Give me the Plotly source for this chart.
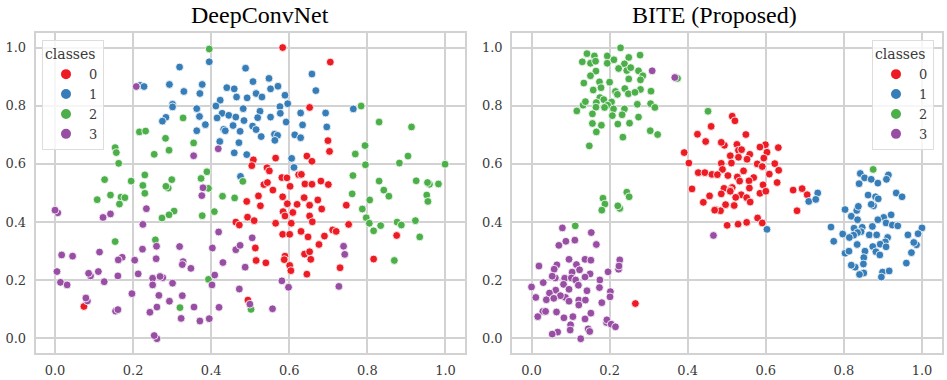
import plotly.graph_objects as go

class_names = ["0", "1", "2", "3"]
class_colors = ["#ed1c24", "#377eb8", "#4daf4a", "#984ea3"]
panel_titles = ["DeepConvNet", "BITE (Proposed)"]
tick_values = [0.0, 0.2, 0.4, 0.6, 0.8, 1.0]
tick_labels = ["0.0", "0.2", "0.4", "0.6", "0.8", "1.0"]

# DeepConvNet points
dcn_x0 = [.583, .705, .652, .699, .703, .508, .565, .645, .658, .504, .543, .549, .581, .594, .624, .631, .535, .544, .602, .640, .658, .681, .700, .558,
          .521, .583, .638, .673, .491, .595, .620, .652, .526, .746, .683, .584, .609, .589, .652, .493, .510, .659, .565, .605, .463, .472, .752, .711, .720,
          .630, .583, .601, .648, .690, .875, .676, .513, .589, .639, .652, .587, .655, .515, .540, .816, .601, .604, .730, .645, .494, .074]
dcn_y0 = [1.0, .950, .794, .680, .643, .614, .620, .627, .609, .594, .587, .576, .553, .552, .563, .564, .529, .536, .523, .531, .530, .541, .529, .510,
          .490, .487, .484, .476, .471, .463, .461, .458, .456, .458, .445, .436, .433, .421, .421, .417, .405, .401, .396, .396, .400, .390, .392, .373, .368,
          .368, .358, .358, .349, .352, .354, .323, .311, .283, .290, .298, .271, .272, .268, .260, .273, .251, .233, .243, .221, .132, .110]
dcn_x1 = [.319, .395, .218, .228, .293, .377, .330, .371, .440, .459, .465, .423, .412, .301, .301, .363, .428, .445, .463, .415, .370, .284, .275, .385, .456, .432, .436, .363, .474, .422, .471, .459, .475,
          .488, .507, .548, .571, .552, .658, .668, .515, .530, .492, .589, .596, .576, .482, .525, .577, .629, .693, .764, .519, .552, .484, .592, .634, .696, .506, .515, .528, .562, .570, .563, .614, .629, .491, .606, .612]
dcn_y1 = [.933, .951, .870, .866, .873, .873, .849, .842, .862, .858, .830, .819, .799, .805, .796, .790, .774, .767, .761, .758, .763, .760, .747, .735, .732, .719, .714, .714, .712, .677, .673, .638, .557,
          .929, .883, .894, .867, .858, .909, .852, .842, .830, .827, .836, .807, .797, .790, .781, .774, .775, .775, .789, .759, .761, .749, .744, .734, .727, .730, .718, .694, .702, .698, .681, .700, .690, .632, .619, .588]
dcn_x2 = [.395, .328, .216, .232, .283, .154, .157, .355, .292, .254, .163, .389, .374, .230, .127, .195, .225, .299, .290, .284, .393,
          .784, .830, .913, .794, .769, .904, .882, .795, .999, .763, .830, .925, .959, .954, .982, .481, .842,
          .761, .855, .806, .952, .955, .787, .797, .805, .834, .816, .876, .887, .923, .934, .869, .502,
          .108, .142, .169, .179, .165, .230, .305, .292, .274, .377, .408, .429, .460, .154, .257, .393, .320]
dcn_y2 = [.995, .758, .710, .713, .688, .656, .639, .672, .647, .633, .602, .573, .550, .562, .546, .541, .526, .546, .517, .523, .516,
          .799, .744, .727, .663, .634, .627, .603, .597, .599, .560, .541, .542, .530, .536, .531, .540, .510,
          .497, .489, .476, .493, .471, .445, .415, .396, .388, .370, .400, .390, .405, .349, .268, .100,
          .477, .493, .486, .484, .462, .499, .438, .425, .414, .422, .436, .489, .483, .333, .339, .203, .106]
dcn_x3 = [.208, .355, .418, .379, .376, .007, .0, .234, .142, .123, .225, .419, .224, .260, .114, .319, .403, .463, .474, .017, .045, .172, .162, .204, .259,
          .328, .326, .430, .348, .005, .091, .086, .111, .161, .213, .250, .276, .269, .409, .301, .014, .031, .126, .250, .402, .472, .197, .266, .326,
          .083, .079, .293, .261, .155, .161, .356, .420, .243, .323, .395, .371, .261, .254, .505, .739, .742, .487, .581, .598, .727, .557, .499]
dcn_y3 = [.866, .628, .652, .518, .491, .432, .441, .446, .428, .416, .392, .366, .307, .317, .297, .316, .311, .305, .320, .287, .283, .279, .270, .269, .274,
          .264, .254, .261, .241, .230, .215, .224, .230, .215, .222, .207, .209, .213, .218, .190, .193, .184, .195, .184, .184, .170, .154, .148, .147,
          .129, .139, .128, .108, .094, .099, .108, .107, .090, .069, .068, .060, -.001, .010, .346, .317, .289, .245, .198, .176, .179, .102, .118]

# BITE points
bite_x0 = [.460, .425, .446, .391, .403, .427, .444, .462, .411, .514, .521, .549, .494, .486, .526, .530, .538, .599, .585, .632, .603, .509, .530, .559, .552, .595,
           .486, .512, .578, .591, .623, .633, .489, .543, .609, .476, .503, .527, .569, .533, .557, .593, .629, .493, .514, .509, .558, .670, .693,
           .456, .486, .509, .537, .523, .551, .560, .585, .600, .706, .497, .519, .472, .484, .680, .579, .591, .551, .529, .501, .440, .469, .266]
bite_y0 = [.729, .702, .677, .639, .603, .570, .570, .564, .514, .764, .748, .701, .664, .674, .667, .647, .649, .666, .658, .656, .640, .628, .623, .633, .616, .620,
           .602, .603, .600, .591, .601, .578, .581, .576, .565, .563, .560, .555, .553, .541, .542, .528, .536, .516, .519, .510, .517, .510, .515,
           .490, .497, .506, .494, .485, .484, .469, .499, .506, .494, .460, .457, .443, .439, .439, .414, .397, .399, .393, .389, .468, .441, .120]
bite_x1 = [.842, .853, .870, .839, .887, .914, .909, .733, .710, .728, .862, .881, .888, .934, .949, .833, .837, .803, .876, .870, .819, .835, .902, .887, .921,
           .908, .924, .938, .767, .873, .826, .847, 1.0, .603, .844, .835, .825, .797, .814, .865, .884, .964, .990, .912, .774, .906, .893, .986, .979, .834,
           .874, .908, .803, .813, .854, .882, .892, .973, .851, .850, .960, .829, .819, .899, .916, .851, .840, .896]
bite_y1 = [.567, .552, .547, .532, .534, .562, .547, .500, .471, .478, .493, .487, .480, .500, .487, .440, .454, .443, .456, .461, .420, .408, .416, .408, .425,
           .397, .390, .387, .383, .385, .379, .382, .380, .375, .367, .364, .355, .359, .347, .356, .356, .356, .360, .347, .334, .332, .324, .322, .330, .323,
           .316, .315, .293, .300, .300, .298, .287, .295, .278, .256, .259, .245, .252, .228, .232, .225, .220, .211]
bite_x2 = [.228, .142, .130, .161, .194, .249, .278, .151, .164, .194, .211, .238, .223, .244, .254, .274, .165, .151, .285, .249, .279, .174, .200, .134, .178, .158,
           .239, .279, .306, .215, .220, .248, .265, .175, .185, .166, .132, .138, .205, .195, .165, .187, .210, .238, .271, .305, .316, .116, .156, .207, .232, .274,
           .156, .179, .221, .251, .166, .304, .323, .234, .148, .374, .452, .875, .244, .250, .183, .188, .226, .221, .180, .112]
bite_y2 = [.999, .979, .951, .971, .971, .966, .974, .946, .953, .946, .958, .944, .928, .921, .931, .920, .919, .903, .903, .892, .889, .882, .881, .878, .862, .854,
           .859, .856, .850, .849, .839, .841, .846, .828, .821, .811, .802, .814, .813, .802, .795, .794, .789, .789, .805, .807, .794, .782, .772, .766, .769, .761,
           .739, .733, .737, .740, .710, .714, .701, .692, .662, .894, .781, .581, .503, .487, .482, .462, .447, .456, .441, .387]
bite_x3 = [.309, .367, .079, .153, .111, .088, .070, .166, .466, .096, .137, .152, .226, .019, .065, .115, .223, .224, .061, .058, .104, .123, .196, .150, .053, .085, .102, .113,
           .137, .175, .030, .082, .120, .0, .174, .096, .062, .142, .046, .202, .201, .087, .074, .011, .038, .057, .121, .096, .138, .121, .180, .029, .036, .064,
           .152, .016, .083, .106, .137, .192, .193, .204, .215, .100, .099, .145, .149, .067, .053, .126]
bite_y3 = [.920, .897, .380, .364, .338, .334, .320, .323, .354, .272, .272, .269, .270, .249, .253, .254, .238, .249, .208, .238, .228, .236, .229, .222, .214, .207, .208, .201,
           .211, .201, .192, .186, .183, .177, .175, .169, .166, .164, .156, .161, .143, .141, .147, .141, .133, .138, .132, .128, .132, .115, .123, .093, .093, .091,
           .087, .075, .071, .075, .067, .055, .064, .049, .040, .047, .029, .033, .024, .022, .015, -.001]

dcn_xs = [dcn_x0, dcn_x1, dcn_x2, dcn_x3]
dcn_ys = [dcn_y0, dcn_y1, dcn_y2, dcn_y3]
bite_xs = [bite_x0, bite_x1, bite_x2, bite_x3]
bite_ys = [bite_y0, bite_y1, bite_y2, bite_y3]

W, H = 947, 380
fig = go.Figure()

# left panel, legend top left
for name, color, xs, ys in zip(class_names, class_colors, dcn_xs, dcn_ys):
    fig.add_trace(go.Scatter(x=xs, y=ys, mode="markers", name=name, xaxis="x", yaxis="y", legend="legend",
                             marker=dict(color=color, size=7.8, line=dict(color="white", width=0.8))))
# right panel, legend top right
for name, color, xs, ys in zip(class_names, class_colors, bite_xs, bite_ys):
    fig.add_trace(go.Scatter(x=xs, y=ys, mode="markers", name=name, xaxis="x2", yaxis="y2", legend="legend2",
                             marker=dict(color=color, size=7.8, line=dict(color="white", width=0.8))))

axis_style = dict(
    range=[-0.05, 1.05], tickvals=tick_values, ticktext=tick_labels, showgrid=True,
    ticks="outside", ticklen=5, tickcolor="rgba(0,0,0,0)",
    gridcolor="#d2d2d2", gridwidth=1.5, zeroline=False, showline=True, linecolor="#d2d2d2",
    linewidth=1.5, mirror=True, tickfont=dict(family="DejaVu Serif", size=13, color="#3a3a3a"),
)
legend_style = dict(
    title=dict(text="classes", font=dict(family="DejaVu Serif", size=14, color="#3a3a3a"), side="top"),
    font=dict(family="DejaVu Serif", size=13, color="#3a3a3a"),
    bgcolor="rgba(255,255,255,0.8)", bordercolor="#dddddd", borderwidth=1,
    itemsizing="constant", itemwidth=36, tracegroupgap=0, xanchor="left", yanchor="top",
)

fig.update_layout(
    width=W, height=H, margin=dict(l=0, r=0, t=0, b=0), autosize=False,
    paper_bgcolor="white", plot_bgcolor="white",
    xaxis=dict(domain=[35.5 / W, 465 / W], anchor="y", **axis_style),
    yaxis=dict(domain=[1 - 353 / H, 1 - 33 / H], anchor="x", **axis_style),
    xaxis2=dict(domain=[512 / W, 941.5 / W], anchor="y2", **axis_style),
    yaxis2=dict(domain=[1 - 353 / H, 1 - 33 / H], anchor="x2", **axis_style),
    legend=dict(x=42 / W, y=1 - 40 / H, **legend_style),
    legend2=dict(x=872 / W, y=1 - 40 / H, **legend_style),
    annotations=[
        dict(text=panel_titles[0], x=260 / W, y=1 - 15 / H, xref="paper", yref="paper", showarrow=False,
             xanchor="center", yanchor="middle", font=dict(family="Liberation Serif", size=24, color="black")),
        dict(text=panel_titles[1], x=714 / W, y=1 - 15 / H, xref="paper", yref="paper", showarrow=False,
             xanchor="center", yanchor="middle", font=dict(family="Liberation Serif", size=24, color="black")),
    ],
)

# the page's default body margin would push the fixed-size figure off the window
fig.write_html("out.html", config={"displayModeBar": False},
               post_script="document.body.style.margin='0';document.documentElement.style.overflow='hidden';")
